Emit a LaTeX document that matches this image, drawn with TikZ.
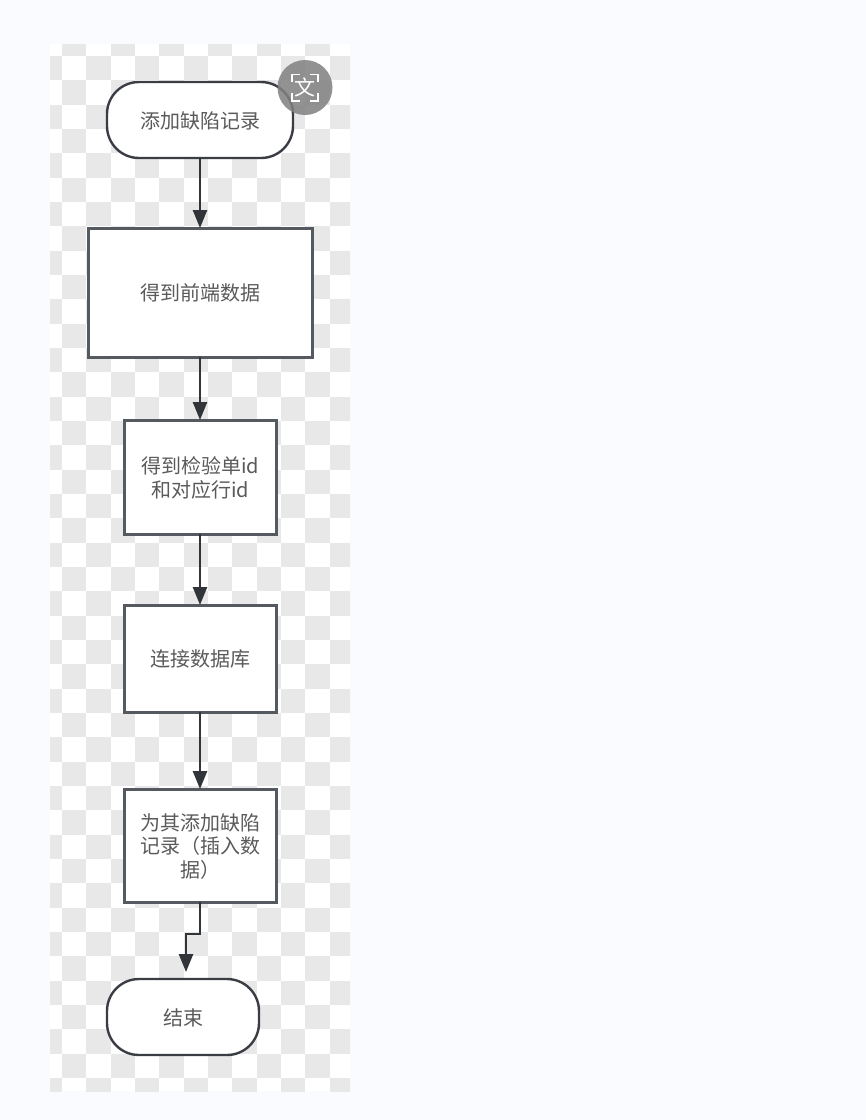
\documentclass[tikz,border=0pt]{standalone}
\usepackage{fontspec}
\setmainfont{Noto Sans CJK SC}
\usetikzlibrary{arrows.meta}
\definecolor{pagebg}{HTML}{F9FBFE}
\definecolor{chk}{HTML}{E8E8E8}
\definecolor{edge}{HTML}{3A3E44}
\definecolor{boxedge}{HTML}{555A61}
\definecolor{txt}{HTML}{5A5A5A}

\begin{document}
\begin{tikzpicture}[
  x=1pt, y=-1pt,
  base/.style={fill=white, align=center, text=txt, outer sep=0pt, inner sep=0pt, text depth=0pt, font=\fontsize{20}{23.5}\selectfont},
  bx/.style={base, draw=boxedge, line width=3pt},
  term/.style={base, draw=edge, line width=2.4pt, rounded corners=32pt},
  arr/.style={-{Triangle[length=18pt,width=14pt]}, line width=2.6pt, draw=edge, color=edge!85!black}
]
\useasboundingbox (0,0) rectangle (866,1120);
\fill[pagebg] (0,0) rectangle (866,1120);
% checker ground
\begin{scope}
\clip (50,44) rectangle (350,1091);
\fill[white] (50,44) rectangle (350,1091);
\foreach \i in {-1,...,12}
 \foreach \j in {0,...,43}
 {
  \pgfmathtruncatemacro{\chkodd}{mod(\i+\j+2,2)}
  \ifnum\chkodd=0
   \fill[chk] (62+24.33*\i,31.67+24.33*\j) rectangle ++(24.33,24.33);
  \fi
 }
\end{scope}
% flow
\node[term, minimum width=186pt, minimum height=76pt] (start) at (200,120) {添加缺陷记录};
\foreach \n/\y/\w/\h/\t in {
 front/292.5/224/129/{得到前端数据},
 ids/477/152/114/{得到检验单id\\和对应行id},
 conn/658.5/152/107/{连接数据库},
 ins/845.5/152/113/{为其添加缺陷\\记录（插入数\\据）}}
{
 \node[bx, minimum width=\w pt, minimum height=\h pt] (\n) at (200,\y) {\t};
}
\node[term, minimum width=152pt, minimum height=76pt] (finish) at (183,1017) {结束};
\foreach \a/\b in {start/front,front/ids,ids/conn,conn/ins} \draw[arr] (\a.south) -- (\b.north);
\coordinate (bend) at (186,934);
\coordinate (tip) at (186,972);
\draw[arr] (ins.south) |- (bend) -- (tip);
% translate badge
\node[circle, fill=black!50, opacity=.85, minimum size=55pt, inner sep=0pt] (badge) at (305,87.5) {};
\node[text=white, font=\fontsize{21}{21}\selectfont, inner sep=0pt] (wen) at (badge) {文};
\draw[white, line width=1.3pt] (292,82) |- (300,74.5) (310,74.5) -| (318,82) (318,93) |- (310,101) (300,101) -| (292,93);
\end{tikzpicture}
\end{document}
